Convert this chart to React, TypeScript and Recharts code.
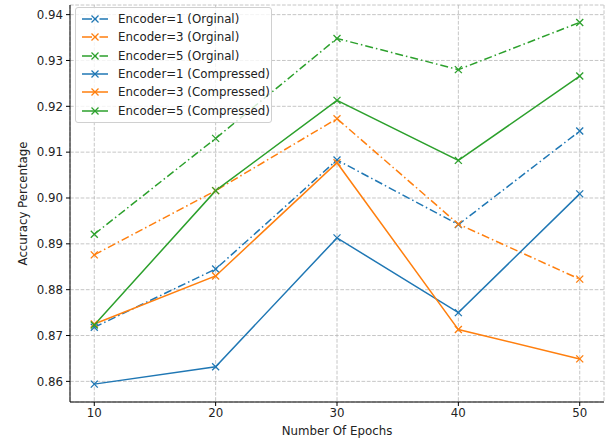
import { LineChart, Line, XAxis, YAxis, CartesianGrid } from "recharts";

// epochs on the x axis
const epochs = [10, 20, 30, 40, 50];

// accuracy values
const enc1Orig = [0.8718, 0.8845, 0.9083, 0.8942, 0.9146];
const enc3Orig = [0.8876, 0.9016, 0.9173, 0.8943, 0.8823];
const enc5Orig = [0.8921, 0.913, 0.9348, 0.928, 0.9383];
const enc1Comp = [0.8594, 0.8632, 0.8913, 0.875, 0.9009];
const enc3Comp = [0.8725, 0.883, 0.9077, 0.8713, 0.8649];
const enc5Comp = [0.8723, 0.9016, 0.9213, 0.9082, 0.9266];

const xTicks = [10, 20, 30, 40, 50];
const yTicks = [0.86, 0.87, 0.88, 0.89, 0.9, 0.91, 0.92, 0.93, 0.94];

const BLUE = "#1f77b4";
const ORANGE = "#ff7f0e";
const GREEN = "#2ca02c";
const DASHDOT = "8 3 1.5 3";
const FONT = "DejaVu Sans, sans-serif";

const series = [
  { key: "e1o", name: "Encoder=1 (Orginal)", values: enc1Orig, color: BLUE, dash: DASHDOT },
  { key: "e3o", name: "Encoder=3 (Orginal)", values: enc3Orig, color: ORANGE, dash: DASHDOT },
  { key: "e5o", name: "Encoder=5 (Orginal)", values: enc5Orig, color: GREEN, dash: DASHDOT },
  { key: "e1c", name: "Encoder=1 (Compressed)", values: enc1Comp, color: BLUE, dash: undefined },
  { key: "e3c", name: "Encoder=3 (Compressed)", values: enc3Comp, color: ORANGE, dash: undefined },
  { key: "e5c", name: "Encoder=5 (Compressed)", values: enc5Comp, color: GREEN, dash: undefined },
];

const data = epochs.map((ep, i) => {
  const row: Record<string, number> = { epoch: ep };
  series.forEach((s) => (row[s.key] = s.values[i]));
  return row;
});

function XMark(props: any) {
  const { cx, cy, stroke } = props;
  if (cx == null || cy == null) return null;
  const r = 3.5;
  return (
    <g>
      <line x1={cx - r} y1={cy - r} x2={cx + r} y2={cy + r} stroke={stroke} strokeWidth={1.3} />
      <line x1={cx - r} y1={cy + r} x2={cx + r} y2={cy - r} stroke={stroke} strokeWidth={1.3} />
    </g>
  );
}

function LegendBox() {
  return (
    <div
      style={{
        position: "absolute",
        left: 75,
        top: 7,
        background: "rgba(255,255,255,0.8)",
        border: "1px solid #d0d0d0",
        borderRadius: 3,
        width: 195,
        padding: "2px 0",
        fontFamily: FONT,
        fontSize: 11.8,
        color: "#222",
      }}
    >
      {series.map((s) => (
        <div key={s.key} style={{ display: "flex", alignItems: "center", height: 18.3 }}>
          <svg width={38} height={12} style={{ marginLeft: 4 }}>
            <line
              x1={2}
              y1={6}
              x2={28}
              y2={6}
              stroke={s.color}
              strokeWidth={1.5}
              strokeDasharray={s.dash ? "10 3 1.5 3" : undefined}
            />
            <XMark cx={15} cy={6} stroke={s.color} />
          </svg>
          <span style={{ whiteSpace: "nowrap" }}>{s.name}</span>
        </div>
      ))}
    </div>
  );
}

export default function App() {
  return (
    <div style={{ position: "absolute", left: 0, top: 0, width: 610, height: 445, background: "#fff" }}>
      <LineChart width={610} height={445} data={data} margin={{ top: 5, right: 6, bottom: 0, left: 0 }}>
        <CartesianGrid stroke="#b8b8b8" strokeDasharray="3.7 1.6" strokeWidth={0.8} />
        <XAxis
          dataKey="epoch"
          type="number"
          domain={[8, 52]}
          ticks={xTicks}
          height={43}
          tickSize={4}
          tickMargin={3}
          stroke="#000"
          tick={{ fill: "#222", fontSize: 11.8, fontFamily: FONT }}
          label={{
            content: (p: any) => {
              const vb = p.viewBox;
              return (
                <text
                  x={vb.x + vb.width / 2}
                  y={431}
                  textAnchor="middle"
                  dominantBaseline="central"
                  fontSize={11.8}
                  fontFamily={FONT}
                  fill="#222"
                >
                  Number Of Epochs
                </text>
              );
            },
          }}
        />
        <YAxis
          type="number"
          domain={[0.8555, 0.9421]}
          ticks={yTicks}
          width={70}
          tickSize={4}
          tickMargin={3}
          stroke="#000"
          allowDataOverflow
          tickFormatter={(v: number) => v.toFixed(2)}
          tick={{ fill: "#222", fontSize: 11.8, fontFamily: FONT }}
          label={{
            content: (p: any) => {
              const vb = p.viewBox;
              const cx = 23;
              const cy = vb.y + vb.height / 2;
              return (
                <text
                  x={cx}
                  y={cy}
                  transform={`rotate(-90 ${cx} ${cy})`}
                  textAnchor="middle"
                  dominantBaseline="central"
                  fontSize={11.8}
                  fontFamily={FONT}
                  fill="#222"
                >
                  Accuracy Percentage
                </text>
              );
            },
          }}
        />
        {series.map((s) => (
          <Line
            key={s.key}
            dataKey={s.key}
            name={s.name}
            type="linear"
            stroke={s.color}
            strokeWidth={1.5}
            strokeDasharray={s.dash}
            dot={<XMark stroke={s.color} />}
            activeDot={false}
            isAnimationActive={false}
          />
        ))}
      </LineChart>
      <LegendBox />
    </div>
  );
}
